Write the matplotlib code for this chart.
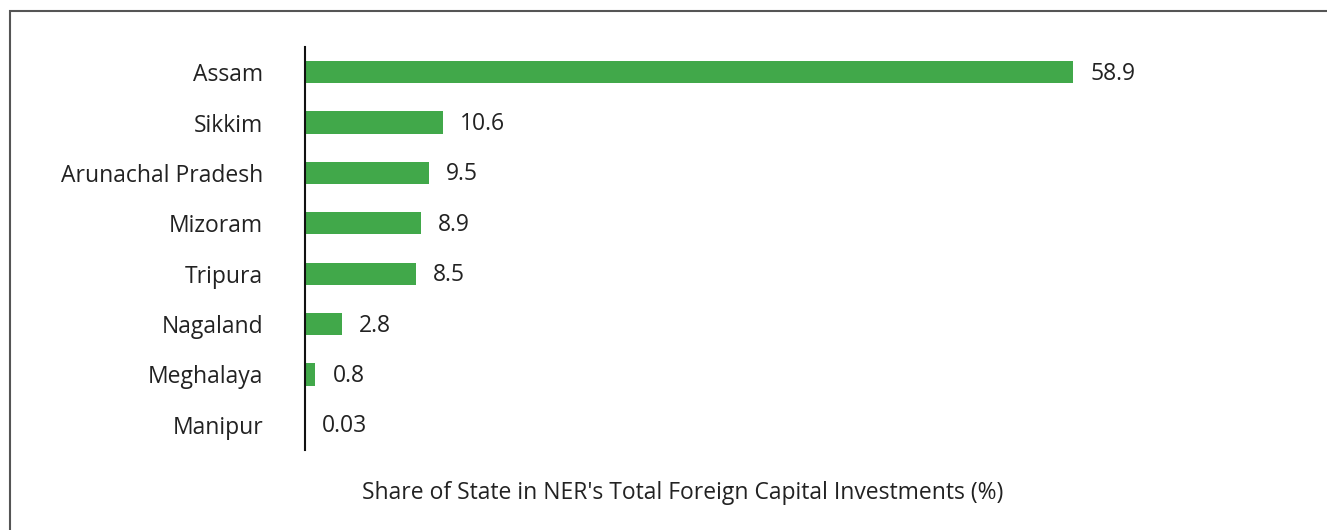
import matplotlib
matplotlib.use("Agg")
import matplotlib.pyplot as plt
from matplotlib.patches import Rectangle

states = ["Assam", "Sikkim", "Arunachal Pradesh", "Mizoram", "Tripura",
          "Nagaland", "Meghalaya", "Manipur"]
share = [58.9, 10.6, 9.5, 8.9, 8.5, 2.8, 0.8, 0.03]
labels = ["58.9", "10.6", "9.5", "8.9", "8.5", "2.8", "0.8", "0.03"]

plt.rcParams["font.family"] = ["Open Sans", "DejaVu Sans"]
FS = 16.5

W, H = 1327, 530
fig = plt.figure(figsize=(W / 100, H / 100), dpi=100)

# axes placed in pixel terms: spine at x=305, bars span y 47..450
x0, x1 = 305, 305 + 65 * 13.04
y_top, y_bot = 47, 450
ax = fig.add_axes([x0 / W, 1 - y_bot / H, (x1 - x0) / W, (y_bot - y_top) / H])

y = list(range(len(states)))
ax.barh(y, share, height=0.44, color="#41a84a")
for yi, v, t in zip(y, share, labels):
    ax.text(v + 1.3, yi + 0.03, t, va="center", ha="left", fontsize=FS, color="#222222")

ax.set_xlim(0, 65)
ax.set_ylim(len(states) - 0.5, -0.5)
ax.set_yticks(y)
ax.set_yticklabels(states, fontsize=FS, color="#222222")
ax.tick_params(axis="y", length=0, pad=30)
ax.set_xticks([])
for s in ("top", "right", "bottom"):
    ax.spines[s].set_visible(False)
ax.spines["left"].set_linewidth(1.5)
ax.spines["left"].set_color("#111111")

fig.text(683 / W, 1 - 493 / H, "Share of State in NER's Total Foreign Capital Investments (%)",
         ha="center", va="center", fontsize=FS, color="#222222")

# outer frame, clipped at right and bottom edges
fig.patches.append(Rectangle((10 / W, -0.05), 1.1, 1 - 11 / H + 0.05,
                             transform=fig.transFigure, fill=False,
                             edgecolor="#555555", lw=1.5))

fig.savefig("out.png", dpi=100)
